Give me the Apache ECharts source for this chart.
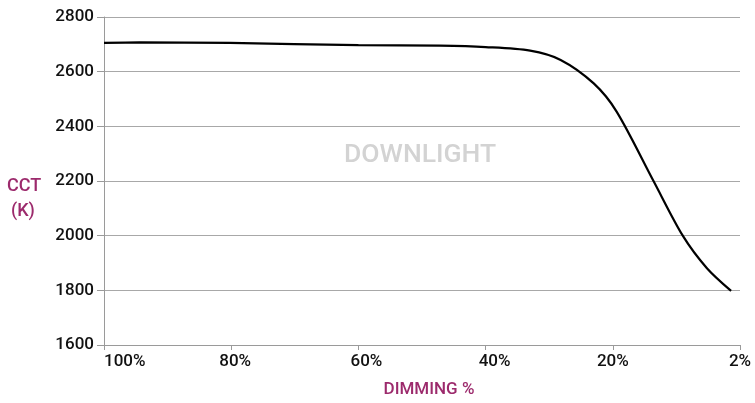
<!DOCTYPE html>
<html>
<head>
<meta charset="utf-8">
<script src="https://cdn.jsdelivr.net/npm/echarts@6/dist/echarts.min.js"></script>
<style>html,body{margin:0;padding:0;background:#fff}#c{width:755px;height:403px}</style>
</head>
<body>
<div id="c"></div>
<script>
// x positions in tick units: 0 = 100%, 1 = 80%, 2 = 60%, 3 = 40%, 4 = 20%, 5 = 2%
const tickLabels = ['100%', '80%', '60%', '40%', '20%', '2%'];
const curveX = [0, 0.28, 0.99, 2.0, 2.64, 3.00, 3.35, 3.59, 3.85, 4.03, 4.32, 4.55, 4.74, 4.93];
const curveY = [2705, 2707, 2705, 2697, 2695, 2690, 2677, 2643, 2557, 2454, 2200, 2000, 1881, 1798];
const yTicks = [1600, 1800, 2000, 2200, 2400, 2600, 2800];

const purple = '#9c2a6c';
const fontFam = 'Roboto';
const chart = echarts.init(document.getElementById('c'));
const labelShift = [0, 8, 16, 18, 0, 0];
chart.setOption({
  animation: false,
  grid: { left: 104, right: 15, top: 17, bottom: 58 },
  xAxis: {
    type: 'value', min: 0, max: 5, interval: 1,
    axisLine: { show: true, lineStyle: { color: '#9a9a9a', width: 1 } },
    axisTick: { show: true, length: 5, lineStyle: { color: '#9a9a9a' } },
    splitLine: { show: false },
    axisLabel: {
      margin: 8, color: '#111', fontFamily: fontFam, fontSize: 17, fontWeight: 500,
      alignMinLabel: 'left',
      formatter: function (v) {
        const i = Math.round(v);
        return '{s' + i + '|' + tickLabels[i] + '}';
      },
      rich: (function () {
        const r = {};
        labelShift.forEach(function (s, i) {
          r['s' + i] = { color: '#111', fontFamily: fontFam, fontSize: 17, fontWeight: 500, padding: [0, 0, 0, s] };
        });
        return r;
      })()
    },
    name: 'DIMMING %', nameLocation: 'middle', nameGap: 36,
    nameTextStyle: { color: purple, fontFamily: fontFam, fontSize: 17, fontWeight: 500, padding: [0, 0, 0, 14] }
  },
  yAxis: {
    type: 'value', min: yTicks[0], max: yTicks[yTicks.length - 1], interval: 200,
    axisLine: { show: true, lineStyle: { color: '#9a9a9a', width: 1 } },
    axisTick: { show: true, length: 7, lineStyle: { color: '#9a9a9a' } },
    splitLine: { show: true, lineStyle: { color: '#a8a8a8', width: 1 } },
    axisLabel: { margin: 10, color: '#111', fontFamily: fontFam, fontSize: 17, fontWeight: 500,
      formatter: function (v) { return String(v); } }
  },
  graphic: [
    { type: 'text', left: 7, top: 177, style: { text: 'CCT', fill: purple, font: '500 18px Roboto' } },
    { type: 'text', left: 11, top: 202, style: { text: '(K)', fill: purple, font: '500 18px Roboto' } },
    { type: 'text', left: 344, top: 142, style: { text: 'DOWNLIGHT', fill: '#d3d3d3', font: '500 26.5px Roboto' } }
  ],
  series: [{
    type: 'line',
    data: curveX.map(function (x, i) { return [x, curveY[i]]; }),
    smooth: 0.3,
    showSymbol: false,
    lineStyle: { color: '#000', width: 2.2 }
  }]
});
</script>
</body>
</html>
